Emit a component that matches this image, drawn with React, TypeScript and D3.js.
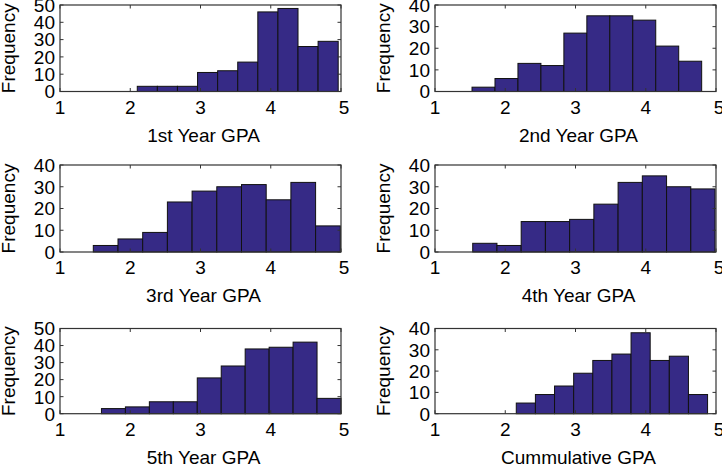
import React from "react"
import { scaleLinear, range } from "d3"

// panel labels
const titles = [
  "1st Year GPA",
  "2nd Year GPA",
  "3rd Year GPA",
  "4th Year GPA",
  "5th Year GPA",
  "Cummulative GPA",
]

// histogram counts (10 bins each)
const firstYear = [3, 3, 3, 11, 12, 17, 46, 48, 26, 29]
const secondYear = [2, 6, 13, 12, 27, 35, 35, 33, 21, 14]
const thirdYear = [3, 6, 9, 23, 28, 30, 31, 24, 32, 12]
const fourthYear = [4, 3, 14, 14, 15, 22, 32, 35, 30, 29]
const fifthYear = [3, 4, 7, 7, 21, 28, 38, 39, 42, 9]
const cumulative = [5, 9, 13, 19, 25, 28, 38, 25, 27, 9]
const counts = [firstYear, secondYear, thirdYear, fourthYear, fifthYear, cumulative]

// data range covered by the bins (min / max GPA)
const binLo = [2.1, 1.527, 1.474, 1.537, 1.59, 2.157]
const binHi = [4.96, 4.796, 4.99, 4.986, 5.0, 4.88]

// axis limits / ticks
const yMaxes = [50, 40, 40, 40, 50, 40]
const xTicks = [1, 2, 3, 4, 5]
const xDomain = [1, 5]

const width = 722
const height = 464
const colLeft = [60, 435]
const plotWidth = 281
const rowTop = [5, 165, 328.5]
const rowBottom = [91.5, 252, 413.7]

const font = "'Liberation Sans', Arial, sans-serif"
const fontSize = 19
const barFill = "#362a86"
const textColor = "#000"
const boxColor = "#333"
const tickLen = 3.5

const Panel = ({ i }: { i: number }) => {
  const col = i % 2
  const row = Math.floor(i / 2)
  const x0 = colLeft[col]
  const x1 = x0 + plotWidth
  const y0 = rowTop[row]
  const y1 = rowBottom[row]

  const x = scaleLinear().domain(xDomain).range([x0, x1])
  const y = scaleLinear().domain([0, yMaxes[i]]).range([y1, y0])
  const yTicks = range(0, yMaxes[i] + 1, 10)

  const data = counts[i]
  const binW = (binHi[i] - binLo[i]) / data.length

  return (
    <g>
      {/* bars */}
      {data.map((c, k) => {
        const a = binLo[i] + k * binW
        const b = a + binW
        return (
          <rect
            key={k}
            x={x(a)}
            y={y(c)}
            width={x(b) - x(a)}
            height={y1 - y(c)}
            fill={barFill}
            stroke="#111"
            strokeWidth={1}
          />
        )
      })}

      {/* box */}
      <rect
        x={x0}
        y={y0}
        width={x1 - x0}
        height={y1 - y0}
        fill="none"
        stroke={boxColor}
        strokeWidth={1.2}
      />

      {/* x ticks */}
      {xTicks.map((t) => (
        <g key={"x" + t}>
          <line x1={x(t)} x2={x(t)} y1={y1} y2={y1 - tickLen} stroke={boxColor} />
          <line x1={x(t)} x2={x(t)} y1={y0} y2={y0 + tickLen} stroke={boxColor} />
          <text
            x={x(t) + (t === 5 ? 3 : 0)}
            y={y1 + 22}
            textAnchor="middle"
            fontFamily={font}
            fontSize={fontSize}
            fill={textColor}
          >
            {t}
          </text>
        </g>
      ))}

      {/* y ticks */}
      {yTicks.map((t) => (
        <g key={"y" + t}>
          <line x1={x0} x2={x0 + tickLen} y1={y(t)} y2={y(t)} stroke={boxColor} />
          <line x1={x1} x2={x1 - tickLen} y1={y(t)} y2={y(t)} stroke={boxColor} />
          <text
            x={x0 - 5}
            y={y(t)}
            dy="0.36em"
            textAnchor="end"
            fontFamily={font}
            fontSize={fontSize}
            fill={textColor}
          >
            {t}
          </text>
        </g>
      ))}

      {/* x label */}
      <text
        x={(x0 + x1) / 2 + 3}
        y={y1 + 50}
        textAnchor="middle"
        fontFamily={font}
        fontSize={fontSize}
        fill={textColor}
      >
        {titles[i]}
      </text>

      {/* y label */}
      <text
        transform={`translate(${x0 - 45}, ${(y0 + y1) / 2}) rotate(-90)`}
        textAnchor="middle"
        fontFamily={font}
        fontSize={fontSize}
        fill={textColor}
      >
        Frequency
      </text>
    </g>
  )
}

export default function App() {
  return (
    <svg
      width={width}
      height={height}
      style={{ position: "absolute", left: 0, top: 0, background: "#fff" }}
    >
      <rect width={width} height={height} fill="#fff" />
      {titles.map((_, i) => (
        <Panel key={i} i={i} />
      ))}
    </svg>
  )
}
